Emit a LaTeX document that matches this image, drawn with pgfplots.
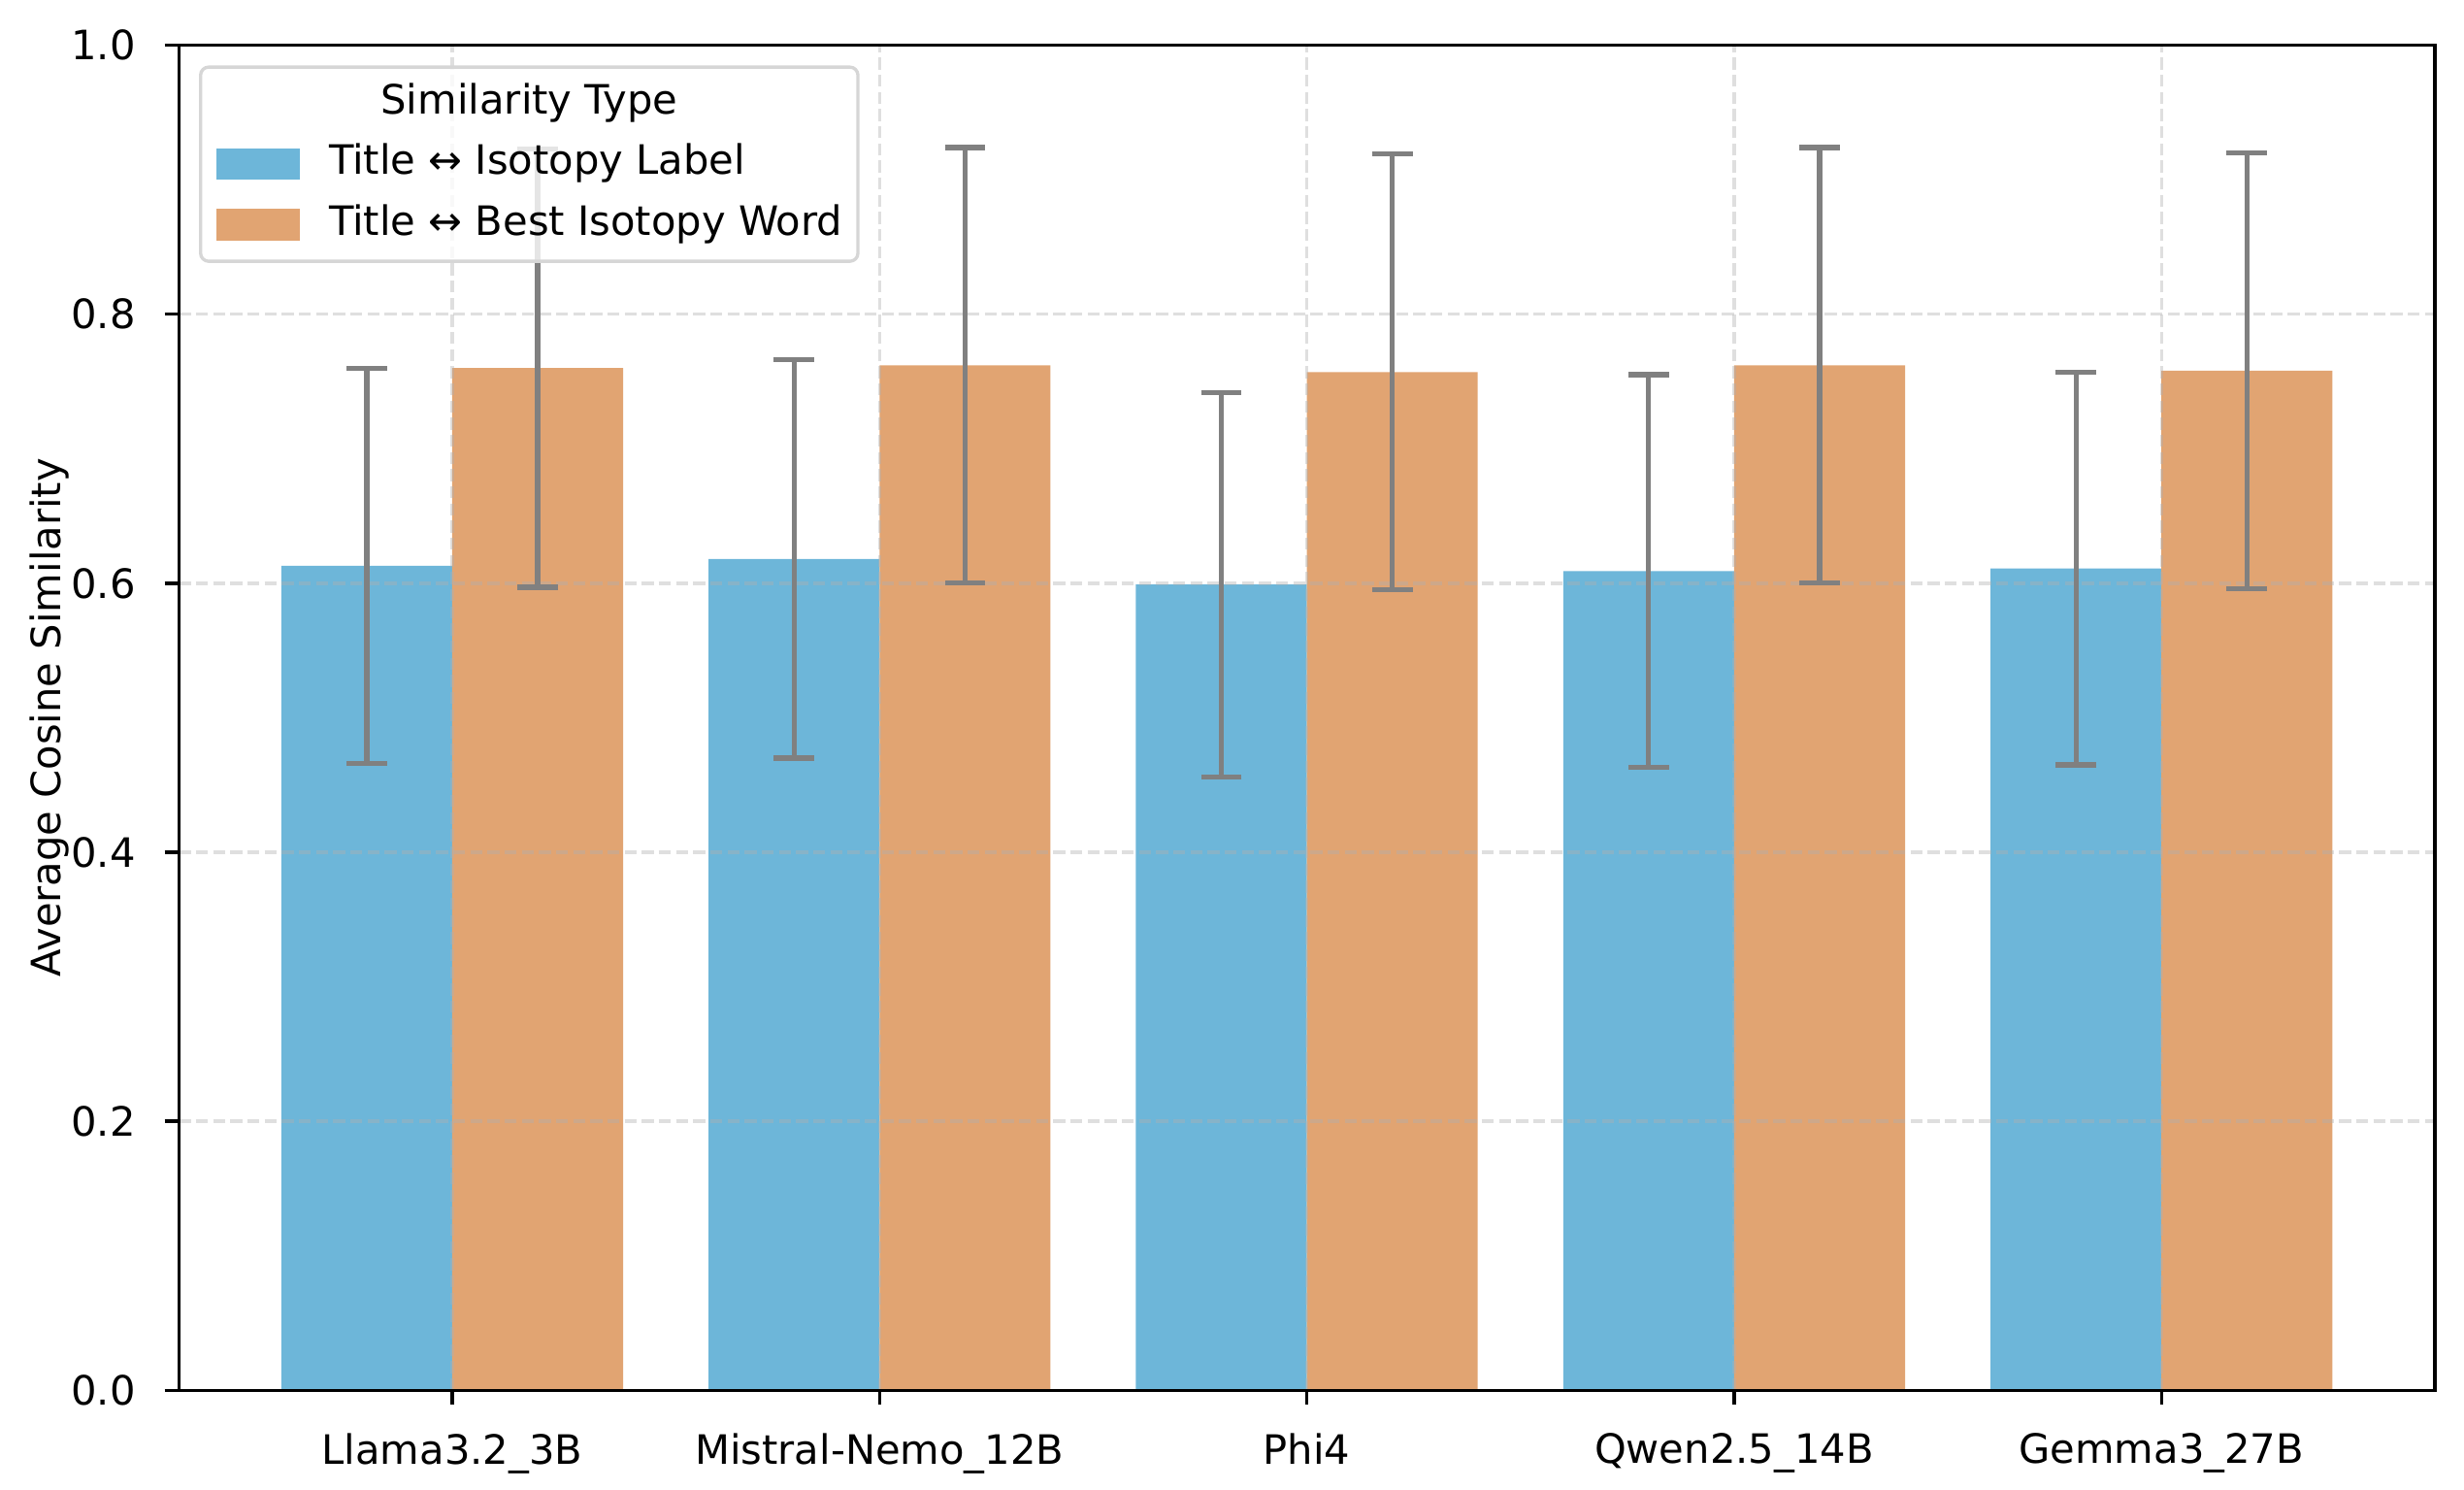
\documentclass[border=0pt]{standalone}
\usepackage{fontspec}
\setmainfont{DejaVu Sans}
\usepackage{pgfplots}
\usepackage{pgfplotstable}
\pgfplotsset{compat=1.18}

\definecolor{cblue}{HTML}{6DB6D9}
\definecolor{corange}{HTML}{E1A472}
\definecolor{errgray}{HTML}{808080}
\definecolor{gridgray}{HTML}{B0B0B0}
\definecolor{legframe}{HTML}{D6D6D6}

% bars under the grid, error bars over it (as matplotlib does)
\pgfplotsset{
  layers/barsbelow/.define layer set={axis background,pre main,axis grid,axis ticks,axis lines,axis tick labels,main,axis descriptions,axis foreground}{
    grid style={/pgfplots/on layer=axis grid},
    tick style={/pgfplots/on layer=axis ticks},
    axis line style={/pgfplots/on layer=axis lines},
    label style={/pgfplots/on layer=axis descriptions},
    legend style={/pgfplots/on layer=axis descriptions},
    title style={/pgfplots/on layer=axis descriptions},
    ticklabel style={/pgfplots/on layer=axis tick labels},
    axis background@ style={/pgfplots/on layer=axis background},
  },
}

% mean and std of cosine similarity per model
\pgfplotstableread{
x  lab    laberr  word   worderr
0  0.613  0.147   0.760  0.163
1  0.618  0.148   0.762  0.162
2  0.599  0.143   0.757  0.162
3  0.609  0.146   0.762  0.162
4  0.611  0.146   0.758  0.162
}\simdata

\begin{document}
\begin{tikzpicture}[font=\fontsize{10}{12}\selectfont]
  \begin{axis}[
    name=ax,
    set layers=barsbelow,
    scale only axis,
    width=557.9pt, height=332.5pt,
    xmin=-0.64, xmax=4.64, ymin=0, ymax=1,
    xtick={0,1,2,3,4},
    xticklabels={Llama3.2\_3B, Mistral-Nemo\_12B, Phi4, Qwen2.5\_14B, Gemma3\_27B},
    ytick={0,0.2,0.4,0.6,0.8,1.0},
    yticklabel style={/pgf/number format/fixed, /pgf/number format/fixed zerofill,
      /pgf/number format/precision=1, /pgf/number format/assume math mode=true},
    tick pos=left,
    tick align=outside,
    major tick length=3.5pt,
    tick style={black, line width=0.8pt},
    axis line style={line width=0.8pt},
    xticklabel style={anchor=north, inner sep=0pt, yshift=-7pt},
    yticklabel style={anchor=east, inner sep=0pt, xshift=-7pt},
    ylabel={Average Cosine Similarity},
    ylabel style={at={(axis description cs:-0.0574,0.5)}, anchor=center},
    grid=major,
    grid style={gridgray, opacity=0.4, line width=0.8pt, dash pattern=on 2.96pt off 1.28pt},
    legend cell align=left,
    legend style={
      at={(axis description cs:0,1)}, anchor=north west, xshift=5pt, yshift=-5pt,
      draw=legframe, line width=0.8pt, rounded corners=2pt,
      fill=white, fill opacity=0.8, text opacity=1,
      inner xsep=3.8pt, inner ysep=4pt,
      row sep=5pt,
      nodes={inner sep=0pt, text height=7.6pt, text depth=2.4pt},
      /tikz/every odd column/.style={column sep=7.2pt},
    },
  ]
    \addlegendimage{empty legend}
    \addlegendentry{\hspace*{12.8pt}Similarity Type}
    \addlegendimage{legend image code/.code={\fill[cblue, fill opacity=1, sharp corners] (0pt,-3.5pt) rectangle (20pt,3.5pt);}}
    \addlegendentry{Title ↔ Isotopy Label}
    \addlegendimage{legend image code/.code={\fill[corange, fill opacity=1, sharp corners] (0pt,-3.5pt) rectangle (20pt,3.5pt);}}
    \addlegendentry{Title ↔ Best Isotopy Word}

    \addplot[forget plot, ybar, bar width=0.4, bar shift=0pt, fill=cblue, draw=none, on layer=pre main]
      table[x expr=\thisrow{x}-0.2, y=lab]{\simdata};
    \addplot[forget plot, ybar, bar width=0.4, bar shift=0pt, fill=corange, draw=none, on layer=pre main]
      table[x expr=\thisrow{x}+0.2, y=word]{\simdata};

    \addplot[forget plot, draw=none, mark=none,
      error bars/.cd, y dir=both, y explicit, error mark=|,
      error bar style={draw=errgray, line width=1.25pt},
      error mark options={draw=errgray, mark size=5pt, line width=1.25pt}]
      table[x expr=\thisrow{x}-0.2, y=lab, y error=laberr]{\simdata};
    \addplot[forget plot, draw=none, mark=none,
      error bars/.cd, y dir=both, y explicit, error mark=|,
      error bar style={draw=errgray, line width=1.25pt},
      error mark options={draw=errgray, mark size=5pt, line width=1.25pt}]
      table[x expr=\thisrow{x}+0.2, y=word, y error=worderr]{\simdata};
  \end{axis}
  \pgfresetboundingbox
  \path ([shift={(-44.2pt,-24.5pt)}]ax.south west) rectangle ([shift={(7.2pt,11.2pt)}]ax.north east);
\end{tikzpicture}
\end{document}
